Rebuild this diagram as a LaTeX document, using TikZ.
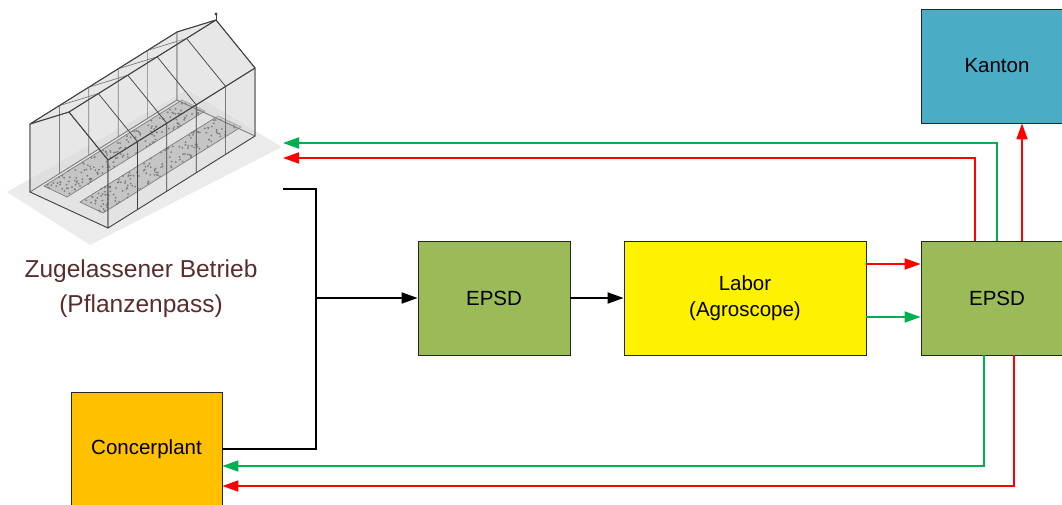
\documentclass[tikz,border=0pt]{standalone}
\usepackage{fontspec}
\setmainfont{Liberation Sans}
\usetikzlibrary{arrows.meta,calc}
\definecolor{epsdgreen}{HTML}{9BBB59}
\definecolor{kantonblue}{HTML}{4BACC6}
\definecolor{concerorange}{HTML}{FFC000}
\definecolor{okgreen}{HTML}{00B050}
\definecolor{nokred}{HTML}{FF0000}
\definecolor{betriebbrown}{HTML}{5A2D2D}
\definecolor{glassline}{HTML}{404040}
\tikzset{
  box/.style={draw=black!85,line width=0.8pt,minimum width=152pt,minimum height=114pt,
    inner sep=0pt,align=center,font=\fontsize{20.5}{26}\selectfont},
  flow/.style={line width=1.8pt,->},
  glass/.style={draw=glassline,line width=0.9pt,fill=black!15,fill opacity=0.4,line join=round},
  mullion/.style={draw=glassline,line width=0.7pt},
  >={Triangle[length=16pt,width=11pt]},
}

\begin{document}
\begin{tikzpicture}[x=1pt,y=-1pt]
  \useasboundingbox (0,0) rectangle (1062,504);

  % greenhouse
  \fill[black!8] (7,192) -- (90,245) -- (282,147) -- (187,90) -- cycle;
  \path[glass] (30,192) -- (177,100) -- (177,32) -- (30,124) -- cycle;
  \foreach \bx/\by/\wx/\wy in {103/213/-23/-11, 44/186/23/11} {
    \fill[black!28] (\bx,\by) -- ++(138,-86) -- ++(\wx,\wy) -- ++(-138,86) -- cycle;
    \draw[glassline,line width=0.7pt] (\bx,\by) -- ++(138,-86) -- ++(\wx,\wy) -- ++(-138,86) -- cycle;
    \pgfmathsetseed{7}
    \foreach \k in {1,...,160} {
      \pgfmathsetmacro\u{rnd}
      \pgfmathsetmacro\v{rnd}
      \fill[black!75] ($(\bx,\by)+\u*(138,-86)+\v*(\wx,\wy)$) circle (1pt);
    }
  }
  \foreach \t in {0.2,0.4,0.6,0.8} {
    \draw[mullion] ($(30,192)+\t*(147,-92)$) -- ++(0,-68) -- ($(69,112)+\t*(147,-92)$);
  }
  \path[glass] (30,192) -- (108,228) -- (108,160) -- (69,112) -- (30,124) -- cycle;
  \path[glass] (177,100) -- (255,136) -- (255,68) -- (216,20) -- (177,32) -- cycle;
  \path[glass] (30,124) -- (177,32) -- (216,20) -- (69,112) -- cycle;
  \path[glass] (108,228) -- (255,136) -- (255,68) -- (108,160) -- cycle;
  \path[glass] (108,160) -- (255,68) -- (216,20) -- (69,112) -- cycle;
  \foreach \t in {0.2,0.4,0.6,0.8} {
    \draw[mullion] ($(108,228)+\t*(147,-92)$) -- ++(0,-68) -- ($(69,112)+\t*(147,-92)$);
  }
  \draw[glassline,line width=1pt] (216,20) -- (216,14);
  \fill[glassline] (216,14) circle (1.6pt);

  \node[text=betriebbrown,align=center,font=\fontsize{24.5}{35}\selectfont] (betrieb) at (141,289)
    {Zugelassener Betrieb\\(Pflanzenpass)};
  \coordinate (ghout) at (283,189);
  \coordinate (ghgreen) at (283,143);
  \coordinate (ghred) at (283,158);

  % boxes
  \node[box,fill=kantonblue] (kanton) at (997,66) {Kanton};
  \node[box,fill=epsdgreen] (epsda) at (494,298) {EPSD};
  \node[box,fill=yellow,minimum width=242pt] (labor) at (745,298) {Labor\\(Agroscope)};
  \node[box,fill=epsdgreen] (epsdb) at (997,298) {EPSD};
  \node[box,fill=concerorange,minimum width=151pt] (concer) at (146.5,449) {Concerplant};

  % connectors
  \coordinate (join) at (316,298);
  \draw[line width=1.8pt] (ghout) -| (join);
  \draw[line width=1.8pt] (concer.east) -| (join);
  \draw[flow] (join) -- (epsda);
  \draw[flow] (epsda) -- (labor);
  \draw[flow,nokred] ([yshift=34pt]labor.east) -- ([yshift=34pt]epsdb.west);
  \draw[flow,okgreen] ([yshift=-19pt]labor.east) -- ([yshift=-19pt]epsdb.west);
  \draw[flow,nokred] ([xshift=25pt]epsdb.north) -- ([xshift=25pt]kanton.south);
  \draw[flow,okgreen] (epsdb.north) |- (ghgreen);
  \draw[flow,nokred] ([xshift=-22pt]epsdb.north) |- (ghred);
  \draw[flow,okgreen] ([xshift=-13pt]epsdb.south) |- ([yshift=-17pt]concer.east);
  \draw[flow,nokred] ([xshift=17pt]epsdb.south) |- ([yshift=-37pt]concer.east);
\end{tikzpicture}
\end{document}
